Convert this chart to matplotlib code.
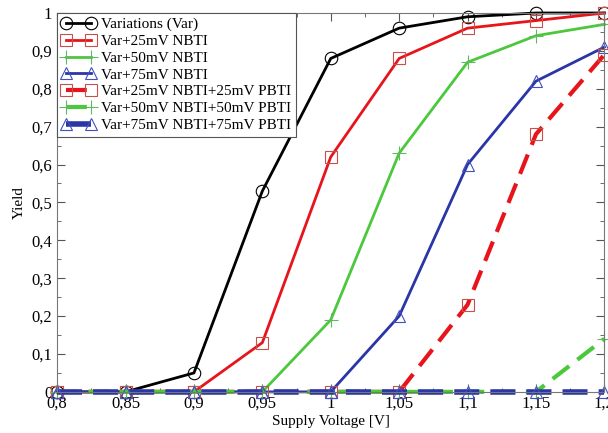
import numpy as np
import matplotlib
matplotlib.use("Agg")
import matplotlib.pyplot as plt
from matplotlib.ticker import MultipleLocator, FuncFormatter

plt.rcParams["font.family"] = ["Liberation Serif", "DejaVu Serif"]

voltage = [0.8, 0.85, 0.9, 0.95, 1.0, 1.05, 1.1, 1.15, 1.2]
yield_var = [0, 0, 0.05, 0.53, 0.88, 0.96, 0.99, 1.0, 1.0]
yield_n25 = [0, 0, 0, 0.13, 0.62, 0.88, 0.96, 0.98, 1.0]
yield_n50 = [0, 0, 0, 0, 0.19, 0.63, 0.87, 0.94, 0.97]
yield_n75 = [0, 0, 0, 0, 0, 0.20, 0.60, 0.82, 0.91]
yield_np25 = [0, 0, 0, 0, 0, 0, 0.23, 0.68, 0.89]
yield_np50 = [0, 0, 0, 0, 0, 0, 0, 0, 0.14]
yield_np75 = [0, 0, 0, 0, 0, 0, 0, 0, 0]

labels = ["Variations (Var)", "Var+25mV NBTI", "Var+50mV NBTI", "Var+75mV NBTI",
          "Var+25mV NBTI+25mV PBTI", "Var+50mV NBTI+50mV PBTI",
          "Var+75mV NBTI+75mV PBTI"]

fig = plt.figure(figsize=(6.08, 4.33), dpi=100)
ax = fig.add_axes([0.094, 0.095, 0.90, 0.875])

red = "#e8141b"
green = "#4cc83c"
blue = "#2a35a8"
dash = (0, (5, 2.5))

ax.plot(voltage, yield_var, color="black", lw=2, marker="o", ms=9,
        mfc="none", mec="black", mew=0.8, label=labels[0], clip_on=False)
ax.plot(voltage, yield_n25, color=red, lw=2, marker="s", ms=8,
        mfc="none", mec="#c8504a", mew=0.8, label=labels[1], clip_on=False)
ax.plot(voltage, yield_n50, color=green, lw=2, marker="+", ms=10,
        mec="#60b860", mew=0.8, label=labels[2], clip_on=False)
ax.plot(voltage, yield_n75, color=blue, lw=2, marker="^", ms=9,
        mfc="none", mec="#4050c0", mew=0.8, label=labels[3], clip_on=False)
ax.plot(voltage, yield_np25, color=red, lw=3, ls=dash, marker="s", ms=8,
        mfc="none", mec="#c8504a", mew=0.8, label=labels[4], clip_on=False)
ax.plot(voltage, yield_np50, color=green, lw=3, ls=dash, marker="+", ms=10,
        mec="#60b860", mew=0.8, label=labels[5], clip_on=False)
ax.plot(voltage, yield_np75, color=blue, lw=4, ls=(0, (4.5, 2)), marker="^", ms=9,
        mfc="none", mec="#4050c0", mew=0.8, label=labels[6], clip_on=False)

ax.set_xlim(0.8, 1.2)
ax.set_ylim(0, 1)
ax.xaxis.set_major_locator(MultipleLocator(0.05))
ax.xaxis.set_minor_locator(MultipleLocator(0.025))
ax.yaxis.set_major_locator(MultipleLocator(0.1))
ax.yaxis.set_minor_locator(MultipleLocator(0.05))

def comma_fmt(v, pos):
    s = f"{v:.2f}".rstrip("0").rstrip(".")
    return s.replace(".", ",")

ax.xaxis.set_major_formatter(FuncFormatter(comma_fmt))
ax.yaxis.set_major_formatter(FuncFormatter(comma_fmt))
ax.tick_params(which="both", direction="in", top=True, right=True,
               labelsize=12, color="#555555")
ax.tick_params(which="major", length=6)
ax.tick_params(which="minor", length=3)
ax.tick_params(axis="x", pad=3)
for sp in ax.spines.values():
    sp.set_color("#777777")

ax.set_xlabel("Supply Voltage [V]", fontsize=11, labelpad=2)
ax.set_ylabel("Yield", fontsize=11)

leg = ax.legend(loc="upper left", fontsize=11, numpoints=2, handlelength=2.2,
                handletextpad=0.4, labelspacing=0.2, borderaxespad=0,
                borderpad=0.3, fancybox=False, framealpha=1)
leg.get_frame().set_edgecolor("#555555")
leg.get_frame().set_linewidth(0.8)

fig.savefig("out.png", dpi=100)
